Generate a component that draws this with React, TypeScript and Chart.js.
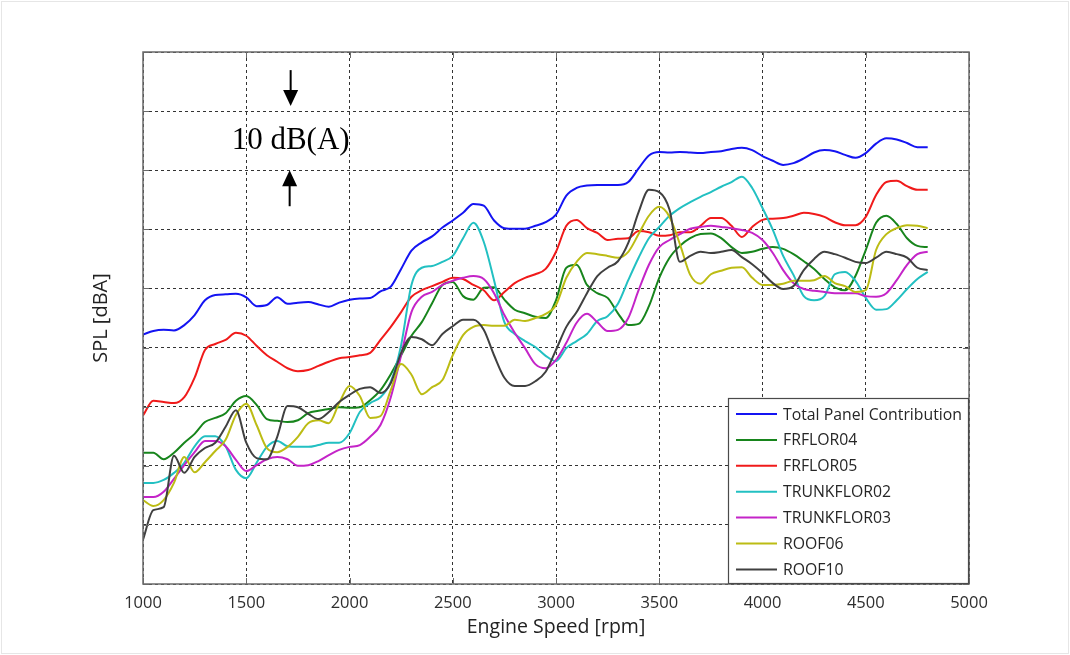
import React, { useEffect, useRef } from "react";
import { Chart, registerables } from "chart.js";

Chart.register(...registerables);

// Engine speed samples [rpm]
const RPM = [
  1000, 1050, 1100, 1150, 1200, 1250, 1300, 1350, 1400, 1450,
  1500, 1550, 1600, 1650, 1700, 1750, 1800, 1850, 1900, 1950,
  2000, 2050, 2100, 2150, 2200, 2250, 2300, 2350, 2400, 2450,
  2500, 2550, 2600, 2650, 2700, 2750, 2800, 2850, 2900, 2950,
  3000, 3050, 3100, 3150, 3200, 3250, 3300, 3350, 3400, 3450,
  3500, 3550, 3600, 3650, 3700, 3750, 3800, 3850, 3900, 3950,
  4000, 4050, 4100, 4150, 4200, 4250, 4300, 4350, 4400, 4450,
  4500, 4550, 4600, 4650, 4700, 4750, 4800,
];

// SPL [dBA] (relative, 10 dB per grid division)
const TOTAL = [
  42.2, 42.8, 43.0, 42.9, 43.8, 45.5, 48.0, 48.9, 49.0, 49.1,
  48.5, 47.0, 47.2, 48.5, 47.4, 47.6, 47.7, 47.3, 46.9, 47.6,
  48.1, 48.3, 48.4, 49.5, 50.3, 53.3, 56.4, 57.8, 58.8, 60.3,
  61.5, 62.8, 64.3, 64.0, 61.5, 60.2, 60.1, 60.1, 60.6, 61.2,
  62.5, 65.7, 67.0, 67.4, 67.5, 67.5, 67.5, 68.0, 70.3, 72.5,
  73.1, 73.0, 73.1, 73.0, 72.9, 73.1, 73.2, 73.6, 73.8, 73.4,
  72.4, 71.6, 70.9, 71.2, 72.0, 73.0, 73.4, 73.2, 72.6, 72.1,
  72.9, 74.5, 75.4, 75.2, 74.6, 73.9, 73.9,
];

const FRFLOR04 = [
  22.2, 22.2, 21.1, 22.2, 23.9, 25.4, 27.4, 28.1, 28.9, 31.0,
  31.8, 30.3, 27.9, 27.6, 27.4, 27.7, 28.9, 29.3, 29.6, 29.9,
  29.8, 29.9, 31.1, 32.8, 35.5, 38.7, 42.0, 44.3, 47.5, 50.6,
  51.1, 48.7, 48.1, 50.1, 50.2, 48.1, 46.4, 45.8, 45.2, 45.0,
  48.0, 53.5, 54.0, 50.6, 49.2, 48.4, 45.8, 43.8, 44.0, 47.0,
  51.8, 55.2, 57.2, 58.5, 59.2, 59.3, 58.5, 57.0, 56.0, 56.2,
  56.7, 57.0, 56.7, 55.8, 54.6, 53.3, 51.6, 50.2, 49.7, 52.1,
  56.5, 61.1, 62.3, 60.9, 58.5, 57.2, 57.0,
];

const FRFLOR05 = [
  28.5, 31.0, 30.8, 30.6, 31.6, 34.9, 39.6, 40.6, 41.3, 42.5,
  42.0, 40.3, 38.7, 37.6, 36.5, 36.0, 36.2, 36.9, 37.6, 38.2,
  38.4, 38.7, 39.1, 41.3, 43.5, 46.0, 48.6, 49.7, 50.4, 51.1,
  51.8, 51.6, 50.6, 49.7, 48.0, 49.4, 50.9, 51.8, 52.4, 53.3,
  56.2, 60.6, 61.6, 60.2, 59.4, 58.2, 58.4, 58.5, 59.7, 59.5,
  58.9, 59.0, 59.5, 59.5, 60.6, 61.9, 61.9, 60.6, 58.7, 60.4,
  61.6, 61.8, 61.9, 62.3, 62.8, 62.6, 62.1, 61.2, 60.7, 60.7,
  62.1, 65.8, 68.0, 68.2, 67.3, 66.7, 66.7,
];

const TRUNKFLOR02 = [
  17.1, 17.1, 17.6, 18.8, 20.5, 23.3, 25.0, 25.0, 23.3, 19.3,
  17.9, 20.5, 23.2, 24.2, 23.3, 23.2, 23.2, 23.5, 23.9, 23.9,
  25.5, 29.1, 30.6, 31.6, 34.2, 40.4, 50.6, 53.5, 53.8, 54.5,
  55.5, 58.5, 61.1, 57.9, 51.4, 44.3, 42.3, 41.1, 40.1, 38.6,
  37.7, 39.9, 41.1, 42.3, 44.5, 45.3, 47.4, 51.4, 55.2, 58.5,
  60.4, 62.3, 63.6, 64.6, 65.5, 66.3, 67.2, 68.0, 68.9, 67.0,
  63.6, 59.9, 55.5, 52.3, 48.7, 48.0, 48.7, 52.4, 52.8, 51.3,
  48.4, 46.4, 46.5, 48.0, 49.9, 51.6, 52.8,
];

const TRUNKFLOR03 = [
  14.7, 14.7, 15.6, 17.8, 20.1, 22.3, 24.2, 24.2, 23.3, 21.0,
  19.1, 20.1, 21.1, 21.5, 21.1, 20.0, 20.1, 20.8, 21.8, 22.7,
  23.2, 23.5, 24.9, 26.9, 31.6, 38.7, 46.0, 48.6, 49.4, 50.6,
  51.3, 51.8, 52.1, 51.6, 49.2, 45.5, 42.5, 39.9, 37.2, 36.5,
  37.9, 40.8, 44.2, 45.7, 44.3, 42.8, 43.0, 45.0, 49.7, 54.0,
  57.0, 58.2, 59.2, 60.1, 60.4, 60.6, 60.4, 60.2, 59.9, 59.4,
  58.2, 56.0, 53.1, 50.9, 49.9, 49.6, 49.4, 49.2, 49.2, 49.2,
  48.7, 48.6, 49.2, 51.4, 54.0, 55.8, 56.2,
];

const ROOF06 = [
  14.2, 13.2, 14.2, 17.1, 21.5, 18.9, 20.6, 22.5, 24.4, 28.6,
  30.5, 26.9, 23.0, 22.3, 23.2, 24.9, 27.2, 27.7, 27.2, 30.6,
  33.5, 31.8, 28.1, 28.4, 32.8, 37.2, 35.4, 32.1, 33.3, 34.5,
  38.7, 42.1, 43.5, 43.8, 43.7, 43.7, 44.7, 44.5, 45.0, 45.7,
  47.2, 51.8, 54.5, 56.0, 55.8, 55.5, 55.2, 56.2, 59.2, 62.3,
  63.8, 62.1, 57.5, 52.3, 50.8, 52.4, 53.0, 53.5, 53.6, 51.8,
  50.6, 50.6, 50.8, 51.3, 51.3, 51.4, 52.1, 50.9, 50.4, 49.4,
  49.7, 56.5, 59.2, 60.2, 60.7, 60.6, 60.2,
];

const ROOF10 = [
  7.5, 12.5, 13.0, 21.7, 18.8, 21.5, 23.0, 23.9, 26.6, 29.4,
  23.9, 21.3, 21.1, 24.9, 30.1, 29.9, 28.8, 27.9, 29.1, 30.8,
  32.0, 33.0, 33.3, 32.3, 34.0, 39.1, 41.8, 41.4, 40.4, 42.3,
  43.6, 44.7, 44.7, 43.0, 38.7, 34.9, 33.5, 33.5, 34.3, 35.9,
  39.6, 43.5, 46.0, 49.2, 52.1, 53.5, 54.6, 57.7, 62.9, 66.7,
  66.3, 63.3, 54.5, 55.5, 56.2, 56.0, 56.2, 56.5, 55.3, 54.1,
  52.6, 50.9, 49.9, 50.4, 53.1, 55.0, 56.2, 55.8, 55.2, 54.5,
  54.3, 55.2, 56.2, 55.8, 55.2, 53.5, 53.1,
];

const LABELS = [
  "Total Panel Contribution",
  "FRFLOR04",
  "FRFLOR05",
  "TRUNKFLOR02",
  "TRUNKFLOR03",
  "ROOF06",
  "ROOF10",
];
const COLORS = ["#1414f2", "#17851c", "#f01a1a", "#22c0c2", "#c424c8", "#bcbc14", "#404040"];
const SERIES = [TOTAL, FRFLOR04, FRFLOR05, TRUNKFLOR02, TRUNKFLOR03, ROOF06, ROOF10];

const X_TICKS = [1000, 1500, 2000, 2500, 3000, 3500, 4000, 4500, 5000];
const Y_GRID = [0, 10, 20, 30, 40, 50, 60, 70, 80, 90];

const ANNOTATION = "10 dB(A)";
const ANNOT_RPM = 1715;
const ANNOT_TOP = 80;
const ANNOT_BOTTOM = 70;

const FRAME = "#6a6a6a";

const overlayPlugin = {
  id: "overlay",
  beforeDraw(chart: any) {
    const { ctx, width, height } = chart;
    ctx.save();
    ctx.fillStyle = "#ffffff";
    ctx.fillRect(0, 0, width, height);
    ctx.strokeStyle = "#e6e6e6";
    ctx.lineWidth = 1;
    ctx.strokeRect(1.5, 1.5, width - 3, height - 3);
    ctx.restore();
  },
  afterDraw(chart: any) {
    const { ctx, chartArea: a, scales } = chart;
    const xs = scales.x;
    const ys = scales.y;
    ctx.save();

    // tick marks inside the frame
    ctx.strokeStyle = FRAME;
    ctx.lineWidth = 1;
    ctx.beginPath();
    for (const v of X_TICKS) {
      const x = Math.round(xs.getPixelForValue(v)) + 0.5;
      ctx.moveTo(x, a.bottom);
      ctx.lineTo(x, a.bottom - 6);
      ctx.moveTo(x, a.top);
      ctx.lineTo(x, a.top + 6);
    }
    for (const v of Y_GRID) {
      const y = Math.round(ys.getPixelForValue(v)) + 0.5;
      ctx.moveTo(a.left, y);
      ctx.lineTo(a.left + 6, y);
      ctx.moveTo(a.right, y);
      ctx.lineTo(a.right - 6, y);
    }
    ctx.stroke();

    // frame
    ctx.lineWidth = 1.5;
    ctx.strokeRect(a.left, a.top, a.right - a.left, a.bottom - a.top);

    // legend box
    const lw = 241;
    const lh = 186;
    const lx = a.right - lw;
    const ly = a.bottom - lh;
    ctx.fillStyle = "#ffffff";
    ctx.fillRect(lx, ly, lw, lh);
    ctx.strokeStyle = "#4a4a4a";
    ctx.lineWidth = 1.2;
    ctx.strokeRect(lx + 0.5, ly + 0.5, lw - 1, lh - 1);
    ctx.font = '15.8px "Open Sans"';
    ctx.textBaseline = "middle";
    ctx.textAlign = "left";
    chart.data.datasets.forEach((ds: any, i: number) => {
      const y = ly + 16 + i * 25.9;
      ctx.strokeStyle = ds.borderColor;
      ctx.lineWidth = 2;
      ctx.beginPath();
      ctx.moveTo(lx + 8, y);
      ctx.lineTo(lx + 49, y);
      ctx.stroke();
      ctx.fillStyle = "#262626";
      ctx.fillText(ds.label, lx + 55, y + 1);
    });

    // 10 dB(A) annotation
    const ax = xs.getPixelForValue(ANNOT_RPM);
    const yTop = ys.getPixelForValue(ANNOT_TOP);
    const yBot = ys.getPixelForValue(ANNOT_BOTTOM);
    ctx.fillStyle = "#000000";
    ctx.strokeStyle = "#000000";
    ctx.lineWidth = 2;
    // down arrow
    ctx.beginPath();
    ctx.moveTo(ax, yTop - 41);
    ctx.lineTo(ax, yTop - 20);
    ctx.stroke();
    ctx.beginPath();
    ctx.moveTo(ax - 7.5, yTop - 21);
    ctx.lineTo(ax + 7.5, yTop - 21);
    ctx.lineTo(ax, yTop - 5);
    ctx.closePath();
    ctx.fill();
    // up arrow
    ctx.beginPath();
    ctx.moveTo(ax - 1, yBot + 36);
    ctx.lineTo(ax - 1, yBot + 14);
    ctx.stroke();
    ctx.beginPath();
    ctx.moveTo(ax - 8.5, yBot + 16);
    ctx.lineTo(ax + 6.5, yBot + 16);
    ctx.lineTo(ax - 1, yBot);
    ctx.closePath();
    ctx.fill();
    ctx.font = '31px "Liberation Serif"';
    ctx.textAlign = "center";
    ctx.textBaseline = "middle";
    ctx.fillText(ANNOTATION, ax, (yTop + yBot) / 2);

    ctx.restore();
  },
};

export default function App() {
  const ref = useRef<HTMLCanvasElement>(null);

  useEffect(() => {
    const canvas = ref.current;
    if (!canvas) return;
    const order = [6, 5, 4, 3, 2, 1, 0];
    const datasets = SERIES.map((vals, i) => ({
      label: LABELS[i],
      data: RPM.map((x, k) => ({ x, y: vals[k] })),
      borderColor: COLORS[i],
      backgroundColor: COLORS[i],
      borderWidth: 2,
      pointRadius: 0,
      fill: false,
      cubicInterpolationMode: "monotone" as const,
      order: order[i],
    }));

    const chart = new Chart(canvas, {
      type: "line",
      data: { datasets },
      options: {
        responsive: false,
        animation: false,
        events: [],
        layout: { padding: { left: 0, top: 52, right: 101, bottom: 0 } },
        plugins: {
          legend: { display: false },
          tooltip: { enabled: false },
        },
        scales: {
          x: {
            type: "linear",
            min: 1000,
            max: 5000,
            afterBuildTicks: (s: any) => {
              s.ticks = X_TICKS.map((v) => ({ value: v }));
            },
            afterFit: (s: any) => {
              s.height = 71;
            },
            ticks: {
              padding: 9,
              color: "#2e2e2e",
              font: { family: "Open Sans", size: 16.5 },
              callback: (v: any) => String(v),
              maxRotation: 0,
            },
            grid: { color: "#333333", lineWidth: 1, drawTicks: false },
            border: { display: false, dash: [3, 3] },
            title: {
              display: true,
              text: "Engine Speed [rpm]",
              color: "#222222",
              font: { family: "Open Sans", size: 19.5 },
              padding: { top: 0, bottom: 16 },
            },
          },
          y: {
            type: "linear",
            min: 0,
            max: 90,
            afterBuildTicks: (s: any) => {
              s.ticks = Y_GRID.map((v) => ({ value: v }));
            },
            afterFit: (s: any) => {
              s.width = 143;
            },
            ticks: { display: false },
            grid: { color: "#333333", lineWidth: 1, drawTicks: false },
            border: { display: false, dash: [3, 3] },
            title: {
              display: true,
              text: "SPL [dBA]",
              color: "#222222",
              font: { family: "Open Sans", size: 20 },
              padding: { top: 89, bottom: 0 },
            },
          },
        },
      },
      plugins: [overlayPlugin],
    });
    return () => chart.destroy();
  }, []);

  return (
    <div style={{ position: "fixed", left: 0, top: 0, width: 1070, height: 655, background: "#fff" }}>
      <canvas ref={ref} width={1070} height={655} style={{ display: "block", width: 1070, height: 655 }} />
    </div>
  );
}
